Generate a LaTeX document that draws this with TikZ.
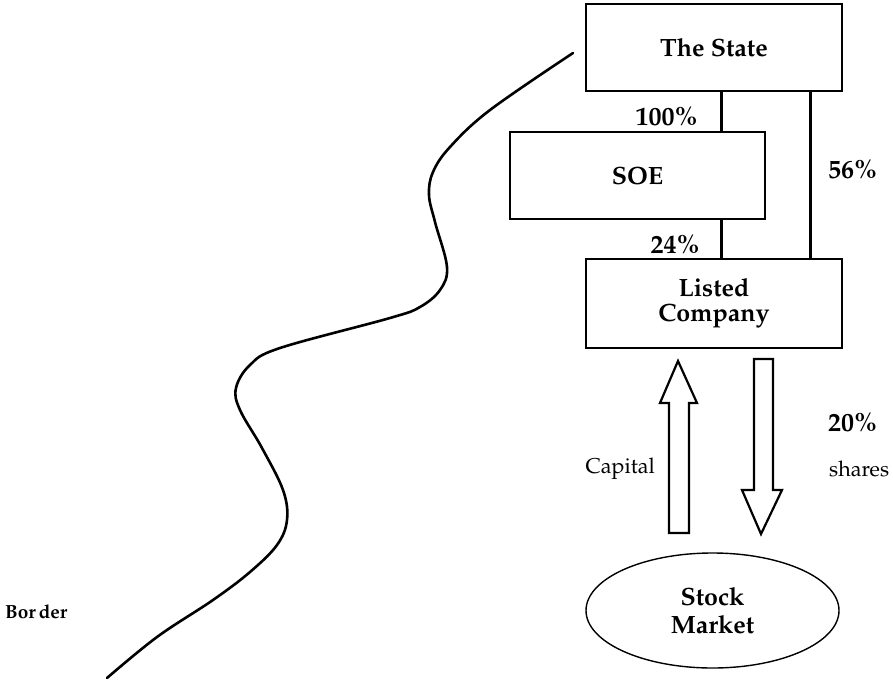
\documentclass[tikz,border=0pt]{standalone}
\usepackage[T1]{fontenc}
\usepackage{mathpazo}
\usetikzlibrary{shapes.geometric}
\begin{document}
\begin{tikzpicture}[x=1pt,y=-1pt,
  box/.style={draw,line width=1.4pt,inner sep=0pt,align=center,font=\fontsize{25}{25}\selectfont\bfseries},
  bold/.style={font=\fontsize{26}{28}\selectfont\bfseries,inner sep=0pt},
  plain/.style={font=\fontsize{21.5}{24}\selectfont,inner sep=0pt},
  link/.style={line width=3pt},
  fat/.style={draw,line width=2.2pt,line join=miter,fill=white},
  border/.style={line width=2.6pt,line cap=round,line join=round}]
\useasboundingbox (0,0) rectangle (893,682);

% ownership boxes
\node[box,minimum width=256pt,minimum height=87pt] (state) at (714,47.5) {The State};
\node[box,minimum width=255pt,minimum height=87pt] (soe) at (637.5,175.5) {SOE};
\node[box,minimum width=256pt,minimum height=89pt] (listed) at (714,303.5) {Listed\\Company};
\node[draw,ellipse,line width=1.4pt,minimum width=253pt,minimum height=115pt,inner sep=0pt,
      align=center,font=\fontsize{25}{28}\selectfont\bfseries] (market) at (712.5,610.5) {Stock\\Market};

% shareholding links
\draw[link] (state.south -| 721,0) -- (soe.north -| 721,0);
\draw[link] (soe.south -| 721,0) -- (listed.north -| 721,0);
\draw[link] (state.south -| 810,0) -- (listed.north -| 810,0);

\node[bold,anchor=east] (p100) at (698,117) {100\%};
\node[bold,anchor=east] (p24) at (700,245) {24\%};
\node[bold,anchor=west] (p56) at (828,170) {56\%};

% capital flows up, shares flow down
\draw[fat] (669,533) -- (669,403) -- (660,403) -- (678,361) -- (697,403) -- (689,403) -- (689,533) -- cycle;
\draw[fat] (754,359) -- (754,490) -- (742,490) -- (761,534) -- (782,490) -- (773,490) -- (773,359) -- cycle;

\node[bold,anchor=west] (p20) at (828,423) {20\%};
\node[plain,anchor=west] (shares) at (829,469) {shares};
\node[plain,anchor=east] (capital) at (655,469) {Capital};

% the border line
\draw[border] plot[smooth,tension=0.6] coordinates {
  (573,53) (490,110) (450,147) (433,172) (429,195) (435,222) (447,267) (440,290)
  (420,307) (390,318) (280,348) (250,365) (236,388) (240,410) (262,448) (283,490)
  (287,520) (277,545) (250,572) (213,600) (157,637) (107,678)};
\node[font=\fontsize{19}{22}\selectfont\bfseries,inner sep=0pt,anchor=west] (borderlabel) at (5,612) {Bor\kern3pt der};
\end{tikzpicture}
\end{document}
